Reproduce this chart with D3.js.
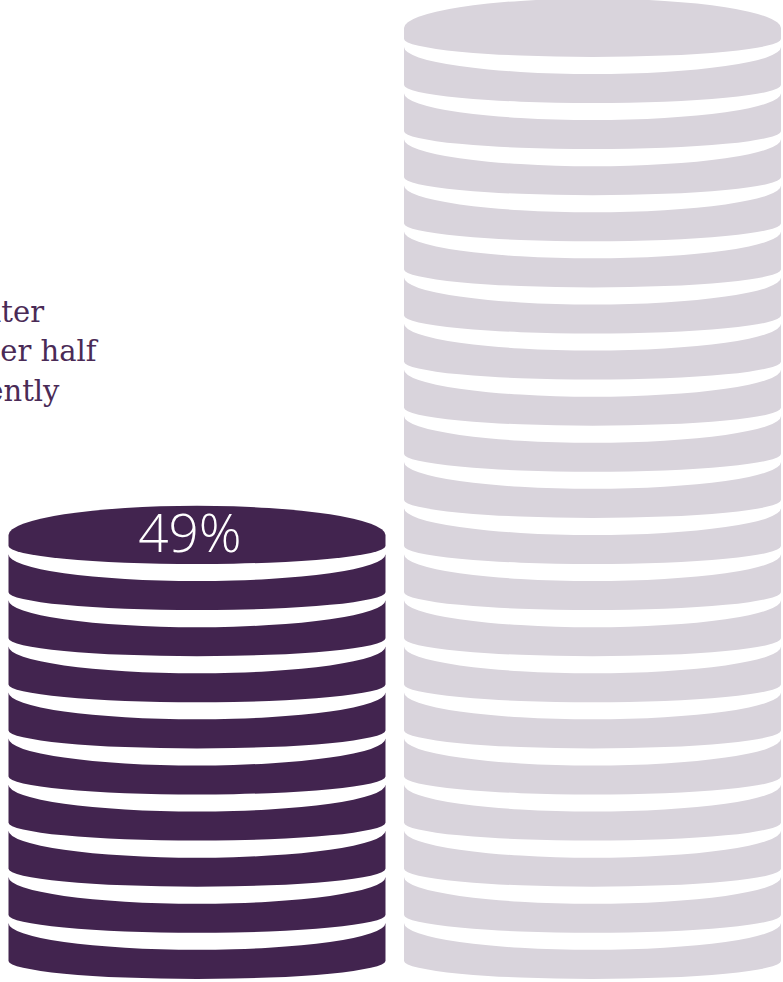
<!DOCTYPE html>
<html lang="en">
<head>
  <meta charset="UTF-8" />
  <script src="https://d3js.org/d3.v7.min.js"></script>
  <title>Coin stacks</title>
  <style>
    body { margin: 0; background: #fff; }
  </style>
</head>
<body>
<script type="text/javascript">
	var width = 783; var height = 982;

	// data
	var categories = ["share", "total"];
	var values = [49, 100];
	var labels = ["49%", ""];
	var colours = ["#42244f", "#d9d4dc"];
	var noteLines = ["later", "other half", "currently"];

	var maxCoins = 21;
	var pitch = 46.1;    // vertical distance between coins
	var rx = 188.5;
	var topRy = 29.5;    // top face of the stack
	var topSag = 27;     // upper edge of each coin band
	var botSag = 18;     // lower edge of each coin band
	var band = 29;       // band thickness at the middle

	var svgctrl = d3.select("body").append("svg").attr("width", width).attr("height", height);

	var x = d3.scaleBand().domain(categories).range([8.5, 781]).paddingInner(0.0468).paddingOuter(0);
	var coins = d3.scaleLinear().domain([0, 100]).range([0, maxCoins]);
	// coin level -> y of the lower edge of that coin (middle of the arc)
	var y = d3.scaleLinear().domain([0, maxCoins]).range([979, 979 - maxCoins * pitch]);

	function bandPath(l, r, yb) {
		var bottomEdge = yb - botSag;
		var topEdge = yb - band - topSag;
		return "M" + l + "," + topEdge +
			"A" + rx + "," + topSag + " 0 0 0 " + r + "," + topEdge +
			"L" + r + "," + bottomEdge +
			"A" + rx + "," + botSag + " 0 0 1 " + l + "," + bottomEdge + "Z";
	}

	function topPath(l, r, yb) {
		var cy = yb - band;
		var bottomEdge = yb - botSag;
		return "M" + l + "," + cy +
			"A" + rx + "," + topRy + " 0 0 1 " + r + "," + cy +
			"L" + r + "," + bottomEdge +
			"A" + rx + "," + botSag + " 0 0 1 " + l + "," + bottomEdge + "Z";
	}

	categories.forEach(function(c, i) {
		var n = Math.round(coins(values[i]));
		var l = x(c), r = x(c) + x.bandwidth();
		var g = svgctrl.append("g").attr("fill", colours[i]);
		g.selectAll("path").data(d3.range(n)).enter().append("path")
			.attr("d", function(k) {
				return k == n - 1 ? topPath(l, r, y(k)) : bandPath(l, r, y(k));
			});
		if (labels[i]) {
			svgctrl.append("text")
				.attr("x", l + x.bandwidth() / 2 - 7)
				.attr("y", y(n - 1) - band + 17)
				.attr("text-anchor", "middle")
				.attr("font-family", "Open Sans")
				.attr("font-weight", 300)
				.attr("font-size", 53)
				.attr("fill", "#fff")
				.text(labels[i]);
		}
	});

	// note text, cut by the left edge as in the original
	var noteX = [44, 96.5, 59.5];
	var noteY = [321.5, 361, 401];
	svgctrl.selectAll("text.note").data(noteLines).enter().append("text")
		.attr("class", "note")
		.attr("x", function(d, i) { return noteX[i]; })
		.attr("y", function(d, i) { return noteY[i]; })
		.attr("text-anchor", "end")
		.attr("font-family", "DejaVu Serif")
		.attr("font-size", 29)
		.attr("fill", "#4a2a56")
		.text(function(d) { return d; });
</script>
</body>
</html>
